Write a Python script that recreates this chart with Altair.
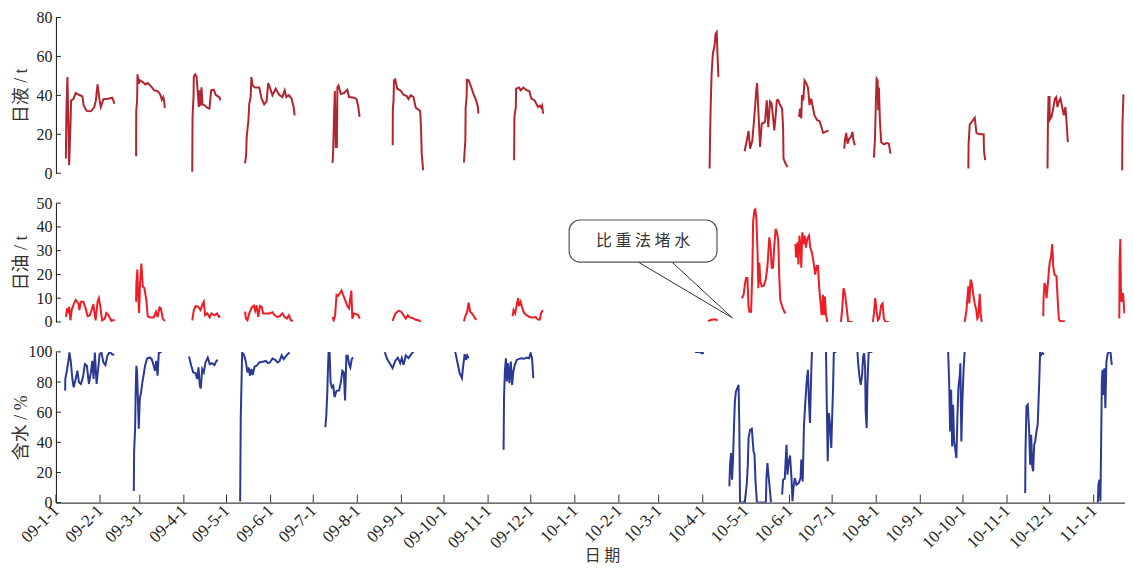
import altair as alt
import pandas as pd
from datetime import date

# ---------------- data (day = days since 2009-01-01) ----------------
X_TICK_LABELS = ["09-1-1", "09-2-1", "09-3-1", "09-4-1", "09-5-1", "09-6-1", "09-7-1",
                 "09-8-1", "09-9-1", "09-10-1", "09-11-1", "09-12-1", "10-1-1", "10-2-1",
                 "10-3-1", "10-4-1", "10-5-1", "10-6-1", "10-7-1", "10-8-1", "10-9-1",
                 "10-10-1", "10-11-1", "10-12-1", "11-1-1"]
X_DOMAIN = [0, 752]

LIQ_TICKS = [0, 20, 40, 60, 80]
OIL_TICKS = [0, 10, 20, 30, 40, 50]
WAT_TICKS = [0, 20, 40, 60, 80, 100]

LIQUID = [
    [(7.0,7.5),(7.4,32),(8.1,49.4),(8.6,32),(9.3,4.1),(10.2,23.7),(10.7,37.4),(12.3,38.1),(13.9,41.2),(16.2,40.3),(18.6,39.5),(19.5,34.9),(21.6,32),(24.6,31.8),(27,34),(28.1,37.4),(29.3,45.6),(30.7,37.4),(31.6,34),(33.4,38),(36.7,38.3),(39.5,38.8),(40.4,37.4),(41.1,35.7)],
    [(56.4,8.7),(56.5,32),(57.1,37.4),(57.4,50.8),(58.3,46),(59,47.7),(61.1,46.8),(62.9,45.6),(64.6,46.3),(66.9,44.6),(69.2,42.6),(71.5,42.2),(73.4,40.5),(74.5,37.7),(75.5,39.1),(76.1,37.4),(76.6,33.5)],
    [(95.9,0.7),(96.1,28.9),(96.8,39.1),(97,49.7),(98,50.8),(98.9,49.7),(99.6,43.4),(100.5,34),(101.2,42.6),(101.7,34.7),(102.4,44.1),(103.1,35.4),(104.5,34.9),(106.4,33.7),(108,33.2),(109.2,42.6),(111,42.9),(112.4,40.3),(113.8,39.6),(115.2,38.8),(115.6,37.4)],
    [(133,5),(133.8,9.2),(134.2,18.6),(135.4,27.2),(136,35.7),(137,39.1),(137.5,49.4),(138.4,45.1),(140,44),(143,44),(144.7,38.3),(146.5,35.4),(148.2,36.9),(149.3,46.3),(150.5,44),(152.3,40),(154.6,43.4),(157,40.3),(159.3,39.1),(160.9,42.6),(162.1,39.1),(163.9,40.1),(165.8,38.3),(167.2,34),(167.9,29.7)],
    [(194.6,5.3),(195,10.9),(195.7,30.6),(196.2,42.2),(196.9,13.5),(197.6,13.5),(198,44.3),(198.8,45.1),(200.4,40.7),(202.7,41.2),(205,42.9),(206.2,39.1),(209.7,38.8),(211.5,38.1),(212.7,34),(213.6,28.9)],
    [(236.9,14.4),(237,33.2),(237.5,37.4),(237.8,47.7),(238.7,48.2),(240.1,43.4),(242.2,42.6),(244.5,40.3),(246.8,39.6),(248,38.1),(249.6,40.1),(251.5,39.1),(253.1,33.7),(256.2,32),(256.8,23.7),(257.3,10.1),(258.3,1.5)],
    [(287,5.5),(288,16.9),(288.2,33.5),(288.9,39.1),(289.1,48),(290.3,47.7),(292.1,44.3),(294,40.1),(295.6,37.4),(296.8,34),(297.2,30.6)],
    [(322.3,6.7),(322.5,28.9),(323.5,34),(323.7,43.4),(325.8,44),(326.9,42.6),(328.8,44),(331.1,42.6),(333,42.2),(334.4,38.3),(336.7,37.4),(339.1,34),(340.5,34.7),(341.4,33.7),(342,34.7),(342.7,30.6)],
    [(459.8,2.4),(460,11.8),(460.5,32.3),(461.2,51.1),(462.1,61.4),(463.3,65.6),(464,71.6),(464.8,72.5),(465.3,62),(466,49.4)],
    [(484.4,11.3),(486,16.9),(487.2,21.7),(488.3,12.6),(489.9,16.9),(491.8,34),(492.5,41.7),(493.2,46.3),(494.1,32.3),(495.3,13.5),(496.5,25.5),(497.6,25.8),(498.8,26.3),(500,37.4),(501.1,23.7),(502.3,36.9),(503.4,35.9),(504.3,29.7),(505.3,22),(506.2,28.9),(507.1,37.4),(508,37.7),(509.4,35),(510.8,33.2),(511.5,23.7),(511.8,7.5),(513.2,5),(514.6,3.2)],
    [(522.7,28.9),(523.4,33.2),(524.3,28.2),(524.8,40.1),(525.7,37.4),(526.6,47.7),(527.8,46.3),(529,44),(530.1,35),(531.3,38.3),(532.4,34),(533.6,29.7),(535.5,27.2),(537.1,26.8),(538.3,24.1),(539.7,20.7),(541.3,21.2),(543.4,22)],
    [(554.5,12.6),(555,16.9),(555.9,20.7),(556.8,15.2),(558,17.8),(559.2,18.6),(560.3,21.2),(561,16.9),(562,14.4)],
    [(575.4,8),(576.1,16.9),(576.8,37.4),(577.3,48.5),(578,47.7),(578.4,32.3),(578.9,44),(579.6,27.2),(580.5,16),(582.4,14.8),(584.2,15.5),(585.9,15.2),(587,10.1)],
    [(641.8,2.4),(642,15.2),(642.8,25.1),(644.6,26.8),(646.3,28.5),(647.5,20.7),(649.4,20),(651.2,20),(652.6,20),(652.8,11.8),(653.6,6.7)],
    [(697.5,2.4),(697.8,26.3),(698.2,39.1),(698.9,39.1),(699.1,27.5),(700.3,28.9),(701.5,33.2),(702.7,38.3),(703.6,39.1),(704.5,34),(705.5,36.9),(706.6,38.3),(707.8,34),(709,29.7),(710.1,34),(710.8,27.2),(711.3,21.2),(711.8,16)],
    [(750,1.5),(750.2,24.5),(750.9,40.5)],
]

OIL = [
    [(7.1,2.1),(7.8,5.7),(8.6,3.6),(9.3,6.4),(10.2,0.7),(11.1,5),(12.3,7.1),(13.9,9.3),(15.8,7.8),(16.5,5),(17.6,8.5),(19.3,8.5),(20.9,5.7),(22.3,2.4),(23.9,2.8),(25.1,5),(26.3,7.5),(27,4.3),(27.9,0.7),(29.3,8.5),(30.2,10),(31.1,7.1),(32.5,0.7),(34.4,1.4),(35.5,3.8),(37.1,2.8),(39,0.4),(41.3,1)],
    [(56.4,8.5),(56.6,16.4),(57.3,22.1),(57.8,12.1),(58.5,3.8),(59.2,16.4),(60.1,24.6),(61.1,15),(62.2,14.2),(63.6,9.3),(64.6,2.4),(66.4,1.9),(68.8,1.9),(70.4,4.3),(71.5,2.1),(72.9,6.1),(73.8,5.7),(75.2,1.4),(76.6,0.3)],
    [(95.9,0.7),(97,5),(98.4,6.7),(100.1,6.4),(101.7,5),(102.9,7.1),(104,8.5),(105,2.8),(106.4,3.6),(108.2,1.9),(109.4,3.6),(111.5,2.8),(113.3,3.6),(114.7,2.1),(115.6,2.4)],
    [(133,4.3),(133.7,1.4),(134.7,0.7),(136,3.6),(137.7,6.1),(139.3,6.8),(140.2,4.7),(141.2,7),(142.3,2.1),(143.5,6.7),(144.7,6.4),(145.8,3.6),(148.2,3.6),(150.5,3.6),(152.3,4.1),(153.9,2.8),(155.6,2.1),(157.4,2.4),(159.3,3.6),(160.9,2.1),(162.5,1.4),(163.9,2.8),(165.3,0.7),(166.7,0.4)],
    [(194.6,2.1),(195.4,0.7),(196.4,2.8),(197.4,11.4),(198.5,11),(199.7,12.1),(200.9,13.2),(202,11.4),(203.4,9.3),(205,6.7),(206.2,5.7),(206.9,9.3),(207.8,13.2),(208.5,1.4),(209.7,3.6),(211.3,3.3),(212.7,2.8),(213.6,1.4)],
    [(236.9,0.4),(237.8,2.1),(239.2,3.8),(241,4.7),(242.9,4.3),(244.5,2.8),(246.1,1.4),(247.5,2.8),(248.9,1.9),(250.8,1.7),(252.7,1),(255,0.7),(256.8,0)],
    [(287,0.3),(288.2,2.8),(289.3,4.3),(290.3,8.1),(291.4,4.3),(292.6,3.6),(294,2.4),(294.9,1.4),(295.9,1)],
    [(321.2,2.4),(321.9,5),(323,3.6),(323.9,6.4),(325.1,10),(325.8,6.7),(326.9,8.5),(328.1,5.7),(329.3,3.8),(331.1,2.8),(333.2,2.1),(335.1,1.9),(337.4,2.1),(339,1),(340.4,1),(341.3,3.8),(342.5,5)],
    [(458.8,0.3),(460.5,0.8),(462.5,1.0),(464.3,1.0),(465.3,0.5)],
    [(482.5,10),(483.7,11.4),(484.8,16.4),(485.5,18.5),(486.4,18.5),(487.2,6.4),(487.8,4.3),(489,4.3),(489.9,22.1),(490.4,42),(491.3,47),(492,47.4),(492.7,43.4),(493.4,32),(494.1,14.2),(494.8,24.9),(495.5,17.1),(496.5,15),(497.9,15.2),(499.3,17.8),(500.5,23.5),(501.1,29.2),(501.8,35.6),(502.8,30.6),(503.5,22.8),(504.4,22.8),(505.3,32),(506.3,39.2),(507.2,37.7),(508.1,34.2),(508.8,19.2),(509.5,9.3),(510.9,6.4),(512.3,4.3),(513.2,3.6)],
    [(520.2,32.8),(520.6,27.1),(521.6,33.5),(522.3,24.2),(523,36.3),(523.9,30.6),(524.3,22.8),(525,37.7),(525.9,32.8),(526.6,36.3),(527.6,31.3),(528.5,34.9),(529.7,36.3),(530.6,31.3),(531.8,29.2),(533,24.9),(534.1,19.9),(535.1,23.5),(536,23.5),(537,13.5),(537.9,7.8),(538.6,2.8),(539.5,11.4),(540.2,2.8),(540.9,10.7),(541.6,3.6),(542.6,0)],
    [(552.2,0),(553.1,5.7),(554,14.2),(555,12.1),(555.7,8.5),(556.4,5),(557.3,0),(560.3,0)],
    [(574.7,0),(575.4,3.6),(576.3,10),(577.3,4.3),(578.2,0.7),(579.1,1.4),(580.5,7.1),(581.5,7.8),(582.4,1.4),(583.6,0),(585.9,0)],
    [(639.2,0),(640.4,4.3),(641.8,15),(642.5,7.8),(643.4,17.8),(644.2,16.4),(645.1,12.1),(646.3,7.8),(647.4,5),(648.1,1.4),(648.8,2.1),(649.8,11.8),(650.5,3.6),(651.2,0)],
    [(694.5,2.4),(694.7,10),(695.4,16.4),(696.1,15),(696.8,10),(697.8,16.4),(698.5,22.1),(699.2,25.6),(699.9,27.1),(700.8,32.8),(701.5,23.5),(702.4,19.9),(703.8,19.2),(704.8,7.8),(705.5,1),(706.6,0.3),(709.7,0.3)],
    [(748,1.4),(748.2,24.9),(748.7,34.9),(749.1,15),(749.5,8.5),(750.6,12.1),(751.6,3.6)],
]

WATER = [
    [(6.5,74.3),(6.6,82),(7.7,87.5),(8.8,94),(9.5,99.6),(10.4,94),(11.6,82),(12.5,76.5),(13.9,82),(15.1,87.5),(16.2,79.8),(17.6,78.7),(19,83.1),(20.4,91.9),(21.8,90.8),(23.2,78.7),(24.6,86.4),(25.6,94),(26.5,82),(27.4,99.6),(28.6,78.7),(29.7,88.6),(30.7,98.5),(32,99.6),(33.4,93),(34.8,91.2),(36.2,97.4),(37.8,100),(39.5,98.5),(40.9,97.8)],
    [(54.8,7.7),(55,33.6),(55.7,49),(56.2,77.6),(56.6,90.8),(57.1,86.4),(57.6,71),(58.3,49),(59,68.8),(59.9,73.2),(60.8,79.8),(61.8,85.3),(62.7,90.8),(64.1,95.6),(66,96.3),(67.4,95.2),(68.8,90.8),(69.7,87.5),(70.6,94),(71.5,84.2),(72.4,100),(73.4,99.6),(74.3,100)],
    [(93.6,96.9),(95.2,90.8),(96.6,86.4),(98.2,85.9),(99.4,82),(100.3,89.7),(101.2,77.6),(101.9,75.8),(102.9,88.6),(104,86.4),(105.2,93),(106.8,96.3),(108.2,91.9),(109.9,92.5),(111.5,91.2),(112.9,94),(113.8,94.7)],
    [(129.6,0.7),(130,55.6),(131,99.6),(132.4,97.8),(133.7,93),(134.7,86.4),(135.6,89.7),(136.5,84.2),(137.5,88.6),(138.4,84.6),(139.8,90.3),(141.2,90.8),(143,93),(145.4,93.4),(147.7,94),(149.1,92.5),(150.5,93),(152.3,95.6),(154.2,94.7),(156,93),(157.4,94),(158.8,97.8),(160.2,95.2),(161.6,96.9),(163,98.5),(164.4,99.6)],
    [(189.5,50.1),(190.2,57.8),(190.9,73.2),(191.3,86.4),(191.8,100),(192.5,99.6),(193.2,79.8),(194.1,76.5),(195.1,77.6),(196,69.9),(197.4,74.3),(199.2,74.3),(200.4,79.8),(201.5,87.5),(202.5,86.4),(203.4,67.7),(204.3,97.4),(205.3,97.4),(206.2,91.9),(207.1,89.7),(208.1,95.2),(209,96.3)],
    [(231.3,99.8),(232.9,95.4),(235.2,91.8),(236.8,89.2),(238.7,94),(240.5,96.2),(242.2,92.5),(243.3,95.8),(244.5,91.4),(246.1,97.6),(248,95.8),(249.9,98.5),(251.5,100)],
    [(280.9,100),(282.3,93.6),(284,85.9),(285.6,82.6),(286.3,89.2),(287.5,98.5),(288.4,94.7),(289.3,97.6),(290.3,95.8)],
    [(314.9,35.1),(315.2,69.3),(315.8,87),(316.5,95.8),(317.2,80.4),(318.1,92.5),(319,79.2),(320,93.6),(320.9,78.1),(321.8,87),(322.8,91.4),(324.2,94.7),(325.8,95.4),(327.4,95.8),(329.3,95.4),(331.1,96.2),(332.8,95.8),(333.9,99.1),(334.9,95.8),(335.8,82.6)],
    [(449.5,100),(452.3,100),(454.6,99),(455.8,99.5)],
    [(473.7,10.8),(474.2,25.2),(474.9,32.9),(475.6,15.2),(476.3,29.6),(477,51.7),(477.6,67.1),(478.3,73.7),(479.3,75.9),(480.2,78.1),(480.7,51.7),(481.2,0),(482.5,0),(483.9,0),(484.8,2),(486,13),(486.7,25.2),(487.2,42.8),(488.3,48.3),(489.5,49),(490.7,34),(491.4,31.8),(492.1,14.1),(493.1,0),(495.4,0),(497.7,0),(499.4,0),(499.8,16.3),(500.5,26.3),(501.2,18.5),(502.1,9.7),(503,0)],
    [(510.8,5.3),(511.5,15.2),(512.7,15.9),(513.2,26.3),(513.9,38.4),(514.6,18.5),(515.5,27.4),(516.4,31.3),(517.4,16.3),(518.1,0.9),(518.8,9.7),(519.7,16.3),(520.9,11.9),(522.4,13),(523.8,16.3),(524.3,28.5),(525.3,14.1),(526.2,51.7),(527.1,66),(528.1,80.4),(529,88.1),(529.7,67.1),(530.4,52.8),(530.9,71.5),(531.4,89.2),(531.8,100)],
    [(541.7,100),(542.2,67.1),(542.9,27.4),(543.7,59.4),(544.6,50.6),(545.4,36.2),(546,56.1),(546.7,78.1),(547.2,100),(548.9,100)],
    [(563.8,100),(564.3,92.5),(565.2,83.7),(566.1,78.1),(567.1,84.8),(567.8,96.9),(568.5,99.1),(569.2,89.2),(569.6,60.5),(570.3,49.4),(570.8,78.1),(571.7,100),(574.3,100)],
    [(627.6,100),(628.3,80.4),(629,47.2),(629.7,74.8),(630.4,37.3),(631.1,64.9),(631.8,40.6),(632.5,36.2),(633.4,29.6),(634.1,56.1),(634.8,75.9),(635.8,84.8),(636.2,92.5),(636.9,40.6),(637.6,67.1),(638.5,89.2),(639.2,100)],
    [(681.8,6.4),(682,34),(682.7,63.8),(683.6,64.9),(684.6,47.2),(685.3,25.2),(686,45),(686.7,24.1),(687.4,20.8),(688.1,38.4),(688.8,40.6),(689.7,47.2),(690.6,51.7),(691.6,78.1),(692.3,100),(693,98),(693.9,99.1),(695.1,98.5)],
    [(732.9,0),(733.3,11.9),(734,15.2),(734.7,0.9),(735.2,38.4),(735.7,80.4),(736.2,88.1),(736.8,71.5),(737.5,89.2),(738.2,62.7),(738.9,93.6),(739.9,99.1),(740.8,100),(741.8,99.8),(742.7,91.4)],
]

# callout annotation (in the oil panel's data units)
CALLOUT_TEXT = "比 重 法 堵 水"
CALLOUT_BOX_DAYS = [361, 465]
CALLOUT_BOX_VALS = [25.2, 42.9]
CALLOUT_TEXT_AT = (413, 34)
CALLOUT_LEG_DAYS = [409.6, 433.3]
CALLOUT_TIP = (475.8, 1.7)

# ---------------- helpers ----------------
SERIF = "Liberation Serif, Times New Roman, Noto Sans CJK SC"
CJK = "Noto Sans CJK SC"


def label_to_day(lbl):
    y, m, d = (int(p) for p in lbl.split("-"))
    return (date(2000 + y, m, d) - date(2009, 1, 1)).days


X_TICK_DAYS = [label_to_day(l) for l in X_TICK_LABELS]
LABEL_EXPR = "[" + ",".join("'%s'" % l for l in X_TICK_LABELS) + "][indexof([" + \
    ",".join(str(d) for d in X_TICK_DAYS) + "], datum.value)]"


def frame(segments):
    rows = []
    for s, seg in enumerate(segments):
        for i, (d, v) in enumerate(seg):
            rows.append({"day": d, "value": v, "seg": s, "i": i})
    return pd.DataFrame(rows)


W = 1071
XSCALE = alt.Scale(domain=X_DOMAIN, nice=False, zero=False)


def panel(segments, color, title, ydomain, yticks, height, show_x, extra=None):
    yscale = alt.Scale(domain=ydomain, nice=False, zero=True)
    if show_x:
        xaxis = alt.Axis(values=X_TICK_DAYS, labelExpr=LABEL_EXPR, labelAngle=315,
                         labelAlign="right", labelBaseline="middle", labelFont=SERIF,
                         labelFontSize=17, labelColor="#222", labelPadding=5, ticks=False,
                         grid=False, domainColor="#111", domainWidth=1, labelOverlap=False,
                         title="日 期", titleFont=CJK, titleFontSize=16,
                         titleFontWeight="normal", titleColor="#333",
                         titleX=547, titleY=53, titleBaseline="middle",
                         titleAlign="center")
    else:
        xaxis = None
    yaxis = alt.Axis(values=yticks, ticks=False, grid=False, title=title,
                     titleAngle=270, titleX=-34, titleY=height / 2,
                     titleAlign="center", titleBaseline="middle",
                     titleFont=SERIF, titleFontSize=18, titleFontWeight="normal",
                     titleColor="#333", labelFont=SERIF, labelFontSize=16,
                     labelColor="#222", labelPadding=4, domainColor="#111",
                     domainWidth=1)
    line = alt.Chart(frame(segments)).mark_line(color=color, strokeWidth=2, clip=True).encode(
        x=alt.X("day:Q", scale=XSCALE, axis=xaxis),
        y=alt.Y("value:Q", scale=yscale, axis=yaxis),
        detail="seg:N",
        order="i:Q",
    )
    yt = alt.Chart(pd.DataFrame({"value": yticks})).mark_rule(color="#222", strokeWidth=1).encode(
        y=alt.Y("value:Q", scale=yscale, axis=yaxis), x=alt.value(0), x2=alt.value(5))
    layers = [line, yt]
    if show_x:
        xt = alt.Chart(pd.DataFrame({"day": X_TICK_DAYS})).mark_rule(color="#333", strokeWidth=1).encode(
            x=alt.X("day:Q", scale=XSCALE, axis=xaxis), y=alt.value(height), y2=alt.value(height - 8))
        layers.append(xt)
    if extra:
        layers += extra(yscale, yaxis)
    return alt.layer(*layers).properties(width=W, height=height)


def callout(yscale, yaxis):
    legs = pd.DataFrame({"day": CALLOUT_LEG_DAYS, "value": [CALLOUT_BOX_VALS[0]] * 2,
                         "day2": [CALLOUT_TIP[0]] * 2, "value2": [CALLOUT_TIP[1]] * 2})
    rules = alt.Chart(legs).mark_rule(color="#333", strokeWidth=1).encode(
        x=alt.X("day:Q", scale=XSCALE, axis=None), x2="day2:Q",
        y=alt.Y("value:Q", scale=yscale, axis=yaxis), y2="value2:Q")
    box = pd.DataFrame({"day": [CALLOUT_BOX_DAYS[0]], "day2": [CALLOUT_BOX_DAYS[1]],
                        "value": [CALLOUT_BOX_VALS[0]], "value2": [CALLOUT_BOX_VALS[1]]})
    rect = alt.Chart(box).mark_rect(fill="white", stroke="#555", strokeWidth=1.2,
                                    cornerRadius=11).encode(
        x=alt.X("day:Q", scale=XSCALE, axis=None), x2="day2:Q",
        y=alt.Y("value:Q", scale=yscale, axis=yaxis), y2="value2:Q")
    txt = alt.Chart(pd.DataFrame({"day": [CALLOUT_TEXT_AT[0]], "value": [CALLOUT_TEXT_AT[1]],
                                  "t": [CALLOUT_TEXT]})).mark_text(
        font=CJK, fontSize=16, color="#333", align="center", baseline="middle").encode(
        x=alt.X("day:Q", scale=XSCALE, axis=None), y=alt.Y("value:Q", scale=yscale, axis=yaxis),
        text="t:N")
    return [rules, rect, txt]


top = panel(LIQUID, "#b3252e", "日液 / t", [0, 80], LIQ_TICKS, 156, False)
mid = panel(OIL, "#ee1d25", "日油 / t", [0, 50], OIL_TICKS, 119, False, extra=callout)
bot = panel(WATER, "#2b3894", "含水 / %", [0, 100], WAT_TICKS, 151, True)

chart = alt.vconcat(top, mid, bot, spacing=30, bounds="flush").resolve_scale(
    y="independent").properties(
    padding={"left": 5, "top": 1, "right": 0, "bottom": 6},
    background="white",
).configure_view(stroke=None)

chart.save("out.html", embed_options={"renderer": "svg", "actions": False})
